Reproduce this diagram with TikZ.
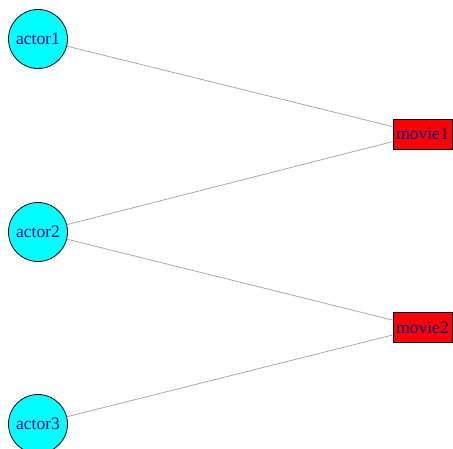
\documentclass[tikz,border=0pt]{standalone}
\usepackage{fontspec}
\setmainfont{Liberation Serif}
\definecolor{labelblue}{HTML}{00008B}
\definecolor{edgegrey}{HTML}{A9A9A9}
\definecolor{actorfill}{HTML}{00FFFF}
\definecolor{moviefill}{HTML}{FF0000}
\begin{document}
\begin{tikzpicture}[x=1pt,y=1pt,
   actor/.style={circle,draw=black,fill=actorfill,line width=0.8pt,minimum size=59pt,inner sep=0pt,text=labelblue,font=\fontsize{17.5}{19}\selectfont},
   movie/.style={rectangle,draw=black,fill=moviefill,line width=0.8pt,minimum width=59pt,minimum height=30pt,inner sep=0pt,text=labelblue,font=\fontsize{17.5}{19}\selectfont},
   link/.style={color=edgegrey,line width=0.8pt}]
   \useasboundingbox (0,0) rectangle (453,448);
   % the two kinds of vertices
   \node[actor] (actor1) at (38,409) {actor1};
   \node[actor] (actor2) at (38,216) {actor2};
   \node[actor] (actor3) at (38,24) {actor3};
   \node[movie] (movie1) at (422.5,314) {movie1};
   \node[movie] (movie2) at (422.5,120.5) {movie2};
   % who played in what
   \draw[link] (actor1) -- (movie1);
   \draw[link] (actor2) -- (movie1);
   \draw[link] (actor2) -- (movie2);
   \draw[link] (actor3) -- (movie2);
\end{tikzpicture}
\end{document}
